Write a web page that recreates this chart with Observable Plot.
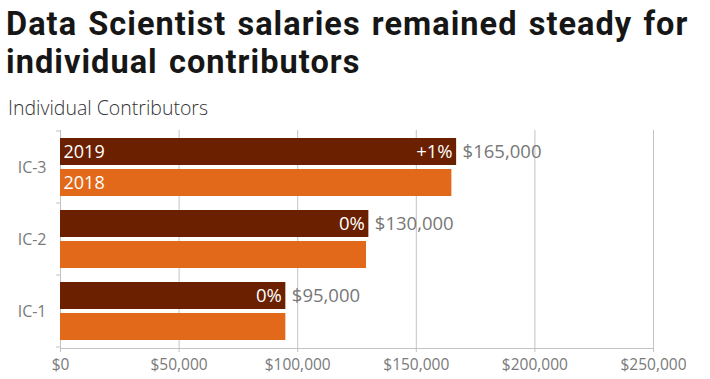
<!DOCTYPE html>
<html>
<head>
<meta charset="utf-8">
<script src="https://cdn.jsdelivr.net/npm/d3@7"></script>
<script src="https://cdn.jsdelivr.net/npm/@observablehq/plot@0.6"></script>
<style>
  html, body { margin: 0; padding: 0; background: #fff; }
  #wrap { position: relative; width: 710px; height: 379px; overflow: hidden; }
  .title { position: absolute; left: 6px; font-family: Roboto, "Open Sans", sans-serif; font-weight: 700;
           font-size: 32.5px; line-height: 38.5px; height: 38.5px; color: #161616; white-space: nowrap;
           letter-spacing: 1.05px; word-spacing: 2px; }
  #t1 { top: 5px; }
  #t2 { top: 43px; }
  #subtitle { position: absolute; left: 8px; top: 98px; font-family: "Open Sans", sans-serif; font-weight: 300;
              font-size: 19.5px; line-height: 19px; color: #333; white-space: nowrap; }
  #chart { position: absolute; left: 0; top: 120px; }
</style>
</head>
<body>
<div id="wrap">
  <div class="title" id="t1">Data Scientist salaries remained steady for</div>
  <div class="title" id="t2">individual contributors</div>
  <div id="subtitle">Individual Contributors</div>
  <div id="chart"></div>
</div>
<script>
const tiers = ["IC-3", "IC-2", "IC-1"];
const salary2019 = [167000, 130000, 95000];
const salary2018 = [165000, 129000, 95000];
const changeLabels = ["+1%", "0%", "0%"];
const valueLabels = ["$165,000", "$130,000", "$95,000"];
const years = ["2019", "2018"];
const xTicks = [0, 50000, 100000, 150000, 200000, 250000];

const rows = tiers.map((t, i) => ({
  tier: t, v2019: salary2019[i], v2018: salary2018[i],
  change: changeLabels[i], label: valueLabels[i]
}));
const topRow = rows.filter(d => d.tier === tiers[0]);

const dark = "#6b2000";
const orange = "#e3691a";
const grid = "#c3c3c3";
const font = "Open Sans, sans-serif";

// band boundary ticks on the left axis (drawn from the y band scale)
function yBoundaryTicks(index, scales, values, dimensions) {
  const g = d3.create("svg:g");
  const y = scales.y, x0 = scales.x(0);
  const edges = new Set();
  for (const t of tiers) { edges.add(y(t)); edges.add(y(t) + y.bandwidth()); }
  for (const e of edges) {
    g.append("line").attr("x1", x0 - 4).attr("x2", x0).attr("y1", e).attr("y2", e)
      .attr("stroke", grid).attr("stroke-width", 1);
  }
  return g.node();
}

const chart = Plot.plot({
  width: 710,
  height: 259,
  marginTop: 10,
  marginBottom: 31,
  marginLeft: 60,
  marginRight: 57,
  style: { fontFamily: font, background: "transparent" },
  x: { domain: [0, 250000], ticks: xTicks },
  y: { domain: tiers, paddingInner: 0, paddingOuter: 0, axis: null },
  marks: [
    Plot.gridX(xTicks, { stroke: grid, strokeOpacity: 1 }),
    Plot.ruleX([0], { stroke: grid }),
    Plot.frame({ anchor: "bottom", stroke: grid }),
    yBoundaryTicks,
    Plot.axisX(xTicks, {
      tickSize: 4, stroke: grid, tickPadding: 6, fontSize: 15.5, fill: "#7a7a7a",
      tickFormat: d => "$" + d3.format(",")(d), label: null
    }),
    Plot.axisY({ tickSize: 0, tickPadding: 14, fontSize: 16, fill: "#7a7a7a", label: null }),
    Plot.barX(rows, { y: "tier", x: "v2019", fill: dark, insetTop: 7, insetBottom: 38 }),
    Plot.barX(rows, { y: "tier", x: "v2018", fill: orange, insetTop: 38, insetBottom: 7 }),
    Plot.text(rows, { y: "tier", x: "v2019", text: "change", textAnchor: "end", dx: -4, dy: -15.5,
      fill: "white", fontSize: 18.5 }),
    Plot.text(rows, { y: "tier", x: "v2019", text: "label", textAnchor: "start", dx: 6, dy: -15.5,
      fill: "#777", fontSize: 18.5 }),
    Plot.text(topRow, { y: "tier", x: () => 0, text: () => years[0], textAnchor: "start", dx: 3, dy: -15.5,
      fill: "white", fontSize: 18 }),
    Plot.text(topRow, { y: "tier", x: () => 0, text: () => years[1], textAnchor: "start", dx: 3, dy: 15.5,
      fill: "white", fontSize: 18 })
  ]
});
document.getElementById("chart").appendChild(chart);
</script>
</body>
</html>
